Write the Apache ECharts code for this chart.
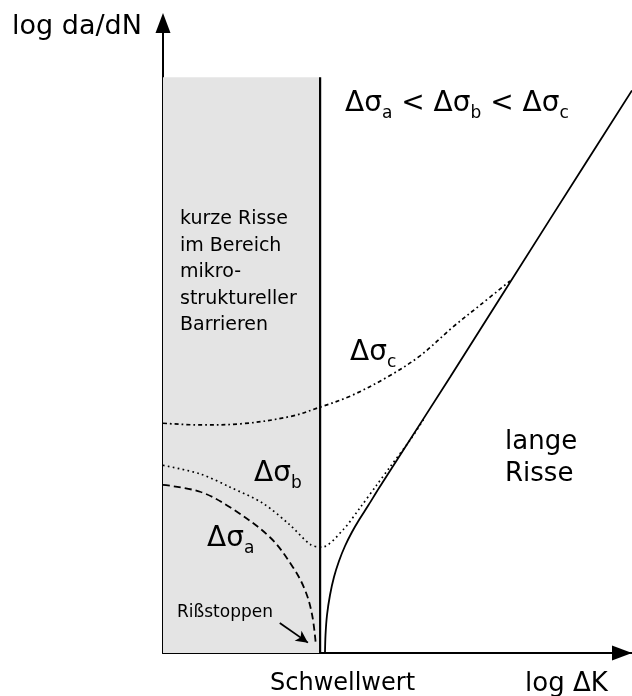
<!DOCTYPE html>
<html><head><meta charset="utf-8">
<script src="https://cdn.jsdelivr.net/npm/echarts@6/dist/echarts.min.js"></script>
<style>html,body{margin:0;padding:0;background:#fff}#c{width:632px;height:696px}</style>
</head><body><div id="c"></div>
<script>
// Schematic units: x = log ΔK, y = log da/dN (arbitrary units)
const shortCrackZone = [[0, 0], [33.5, 100]];      // shaded region
const barrierLine = [[33.5, 0], [33.5, 100]];
const longCracks = [[34.54,0],[34.65,3.13],[34.97,6.6],[35.61,10.07],[36.46,13.19],[37.53,15.97],[38.81,18.58],[40.3,21.01],[41.79,23.09],[43.82,25.69],[46.06,28.65],[49.89,33.51],[61.2,47.9],[82.5,75.3],[100,97.7]];
const sigmaA = [[0,29.2],[7.9,28.0],[14.3,25.3],[22.8,20.1],[27.7,14.9],[30.3,10.9],[31.8,6.6],[32.6,1.4]];
const sigmaB = [[0,32.6],[7.9,31.1],[14.3,28.8],[21.3,26.0],[27.1,22.2],[31.5,18.8],[33.9,18.4],[38.4,21.4],[42.0,25.2],[45.6,29.2],[48.4,32.3],[52.7,37.0],[55.9,41.0]];
const sigmaC = [[0,39.9],[7.9,39.6],[16.6,39.8],[27.3,41.1],[33.5,42.7],[39.9,44.6],[47.8,47.9],[54.8,51.6],[61.8,56.6],[67.6,60.4],[74.0,64.6]];
const stopArrow = [[24.9,5.2],[30.9,1.8]];

const FONT = 'DejaVu Sans';
const chart = echarts.init(document.getElementById('c'), null, {renderer:'canvas'});
const sub = (main, s) => `{m|${main}}{s|${s}}`;
const rich = {
  m:{fontSize:28, fontFamily:FONT, fill:'#000', verticalAlign:'bottom', padding:[0,0,4,0]},
  s:{fontSize:17, fontFamily:FONT, fill:'#000', verticalAlign:'bottom'}
};
const txt = (x, y, text, size, extra) => ({type:'text', x, y, z:100,
  style:Object.assign({text, font:`${size}px ${FONT}`, fill:'#000', verticalAlign:'middle'}, extra || {})});

chart.setOption({
  animation:false,
  grid:{left:163, right:0, top:23, bottom:43},
  xAxis:{type:'value', min:0, max:100, axisLine:{show:true, lineStyle:{color:'#000', width:2}, symbol:['none','triangle'], symbolSize:[15,20], symbolOffset:[0,-10]},
         axisTick:{show:false}, axisLabel:{show:false}, splitLine:{show:false}},
  yAxis:{type:'value', min:0, max:109.4, axisLine:{show:true, lineStyle:{color:'#000', width:2}, symbol:['none','triangle'], symbolSize:[15,20]},
         axisTick:{show:false}, axisLabel:{show:false}, splitLine:{show:false}},
  series:[
    {type:'line', data:barrierLine, symbol:'none', lineStyle:{color:'#000', width:2.2}, z:5,
     markArea:{silent:true, itemStyle:{color:'#e4e4e4'}, data:[[{coord:shortCrackZone[0]},{coord:shortCrackZone[1]}]]}},
    {type:'line', data:longCracks, symbol:'none', smooth:0.3, clip:false, lineStyle:{color:'#000', width:1.8}, z:6},
    {type:'line', data:sigmaA, symbol:'none', smooth:0.35, lineStyle:{color:'#000', width:1.8, type:[7,4]}, z:4},
    {type:'line', data:sigmaB, symbol:'none', smooth:0.3, lineStyle:{color:'#000', width:1.7, type:[1.7,3.3]}, z:4},
    {type:'line', data:sigmaC, symbol:'none', smooth:0.35, lineStyle:{color:'#000', width:1.7, type:[4,3,1.7,3]}, z:4},
    {type:'line', data:[], symbol:'none',
     markLine:{silent:true, symbol:['none','arrow'], symbolSize:[9,12], label:{show:false},
       lineStyle:{color:'#000', width:1.8, type:'solid'}, data:[[{coord:stopArrow[0]},{coord:stopArrow[1]}]]}}
  ],
  graphic:[
    txt(12, 27, 'log da/dN', 27),
    txt(525, 684, 'log ΔK', 26),
    txt(270, 684, 'Schwellwert', 24),
    {type:'text', x:345, y:106, z:100, style:{text:sub('Δσ','a')+'{m| < }'+sub('Δσ','b')+'{m| < }'+sub('Δσ','c'), rich, verticalAlign:'middle'}},
    txt(180, 206, 'kurze Risse\nim Bereich\nmikro-\nstruktureller\nBarrieren', 19, {lineHeight:26.5, verticalAlign:'top'}),
    {type:'text', x:350, y:355, z:100, style:{text:sub('Δσ','c'), rich, verticalAlign:'middle'}},
    {type:'text', x:254, y:476, z:100, style:{text:sub('Δσ','b'), rich, verticalAlign:'middle'}},
    {type:'text', x:207, y:541, z:100, style:{text:sub('Δσ','a'), rich, verticalAlign:'middle'}},
    txt(177, 613, 'Rißstoppen', 17),
    txt(505, 426, 'lange\nRisse', 26, {lineHeight:32, verticalAlign:'top'})
  ]
});
</script></body></html>
